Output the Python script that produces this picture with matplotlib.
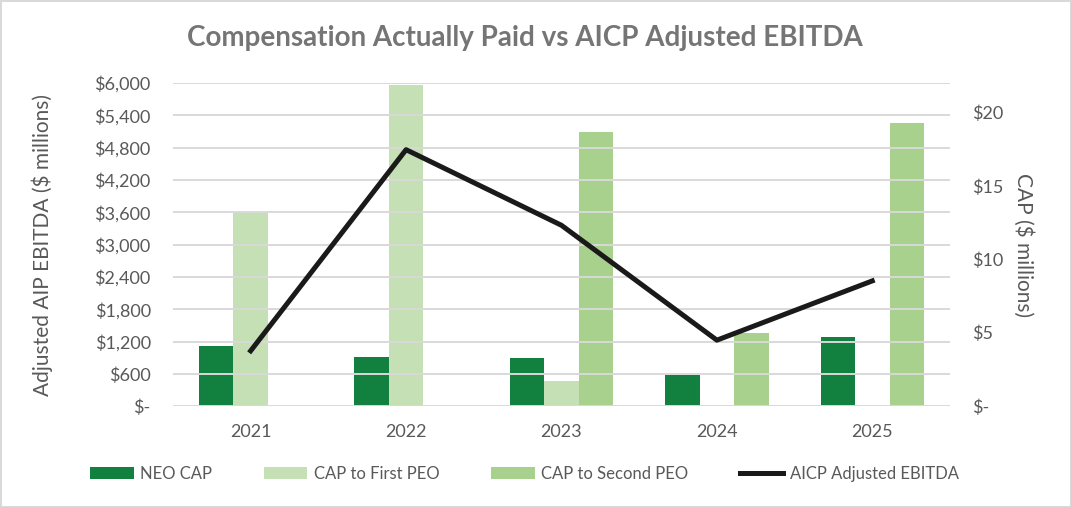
import matplotlib.pyplot as plt
import matplotlib.ticker as mticker
import numpy as np

#Data
years = ["2021", "2022", "2023", "2024", "2025"]
neo_cap = [4.09, 3.36, 3.29, 2.11, 4.70]
first_peo = [13.2, 21.88, 1.70, 0, 0]
second_peo = [0, 0, 18.7, 4.98, 19.27]
ebitda = [1027, 4764, 3359, 1225, 2326]

#Style
plt.rcParams['font.family'] = ['Lato', 'DejaVu Sans']
gray = "#595959"
c_neo = "#12803E"
c_first = "#C5E0B4"
c_second = "#A9D18E"

fig = plt.figure(figsize=(10.71, 5.07), dpi=100)
fig.patch.set_edgecolor("#D9D9D9")
fig.patch.set_linewidth(2)

ax_cap = fig.add_axes([0.1615, 0.199, 0.7255, 0.637])
ax_eb = ax_cap.twinx()

x = np.arange(len(years))
w = 0.222

#Bars (CAP, right axis)
b1 = ax_cap.bar(x - w, neo_cap, w, color=c_neo, label="NEO CAP", zorder=2)
b2 = ax_cap.bar(x, first_peo, w, color=c_first, label="CAP to First PEO", zorder=2)
b3 = ax_cap.bar(x + w, second_peo, w, color=c_second, label="CAP to Second PEO", zorder=2)

#Gridlines at the left axis ticks, under the line
ax_eb.hlines(np.arange(0, 6001, 600), -0.5, 4.5, colors="#D9D9D9", linewidth=1.4, zorder=0.5)

#Line (EBITDA, left axis)
l1, = ax_eb.plot(x, ebitda, color="#1A1A1A", linewidth=3.6, label="AICP Adjusted EBITDA", zorder=3)

ax_cap.set_xlim(-0.5, 4.5)
ax_cap.set_ylim(0, 22)
ax_eb.set_ylim(0, 6000)

#Axis sides
ax_cap.yaxis.tick_right()
ax_cap.yaxis.set_label_position("right")
ax_eb.yaxis.tick_left()
ax_eb.yaxis.set_label_position("left")

ax_cap.set_yticks([0, 5, 10, 15, 20])
ax_eb.set_yticks(np.arange(0, 6001, 600))

def money(v, pos):
    if v == 0:
        return "$-"
    return "${:,.0f}".format(v)

ax_cap.yaxis.set_major_formatter(mticker.FuncFormatter(money))
ax_eb.yaxis.set_major_formatter(mticker.FuncFormatter(money))

ax_cap.set_xticks(x)
ax_cap.set_xticklabels(years)

for ax in (ax_cap, ax_eb):
    for s in ax.spines.values():
        s.set_visible(False)
    ax.tick_params(which="both", length=0, labelsize=13, colors=gray, pad=16)
ax_cap.tick_params(axis="x", pad=13)

ax_eb.set_ylabel("Adjusted AIP EBITDA ($ millions)", fontsize=15, color=gray, labelpad=30)
ax_cap.set_ylabel("CAP ($ millions)", fontsize=15, color=gray, rotation=270, labelpad=22)

fig.suptitle("Compensation Actually Paid vs AICP Adjusted EBITDA", x=0.49, y=0.95,
             fontsize=20, fontweight="bold", color="#757575")

fig.legend([b1, b2, b3, l1], [b1.get_label(), b2.get_label(), b3.get_label(), l1.get_label()],
           loc="center", bbox_to_anchor=(0.49, 0.065), ncol=4, frameon=False,
           fontsize=12, labelcolor=gray, handlelength=2.6, handletextpad=0.4,
           columnspacing=3.1)

fig.savefig("out.png", dpi=100, edgecolor=fig.get_edgecolor())
